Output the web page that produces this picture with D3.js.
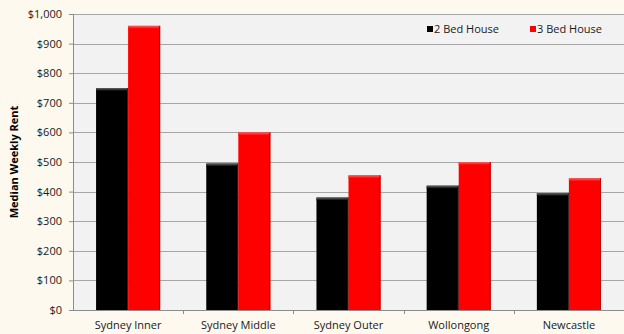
<!DOCTYPE html>
<html>
<head>
<meta charset="utf-8">
<script src="https://cdn.jsdelivr.net/npm/d3@7"></script>
<style>
  body { margin: 0; background: #fdf9ee; }
  svg { display: block; font-family: "Open Sans", "Noto Sans", sans-serif; }
</style>
</head>
<body>
<svg width="624" height="334"></svg>
<script>
var regions = ["Sydney Inner", "Sydney Middle", "Sydney Outer", "Wollongong", "Newcastle"];
var series = ["2 Bed House", "3 Bed House"];
var twoBed = [750, 495, 380, 420, 395];
var threeBed = [960, 600, 455, 500, 445];
var yTicks = [0, 100, 200, 300, 400, 500, 600, 700, 800, 900, 1000];

var colors = { "2 Bed House": "#000000", "3 Bed House": "#ff0000" };
var edges = { "2 Bed House": "#2a2a2a", "3 Bed House": "#c00000" };

var margin = { top: 14, right: 0, bottom: 24, left: 73 };
var width = 624 - margin.left - margin.right,
    height = 334 - margin.top - margin.bottom;

var svg = d3.select("svg");
var g = svg.append("g").attr("transform", "translate(" + margin.left + "," + margin.top + ")");

var x0 = d3.scaleBand().domain(regions).range([0, width]);
var x1 = d3.scaleBand().domain(series).range([0, x0.bandwidth()]).paddingOuter(0.72);
var y = d3.scaleLinear().domain([0, 1000]).range([height, 0]);

// plot background
g.append("rect")
  .attr("width", width).attr("height", height)
  .attr("fill", "#f2f2f2");

// gridlines
g.append("g").selectAll("line")
  .data(yTicks.slice(1))
  .enter().append("line")
  .attr("x1", 0).attr("x2", width)
  .attr("y1", function(d) { return Math.round(y(d)) + 0.5; })
  .attr("y2", function(d) { return Math.round(y(d)) + 0.5; })
  .attr("stroke", "#a6a6a6");

// gradient for bar tops
var defs = svg.append("defs");
series.forEach(function(s, i) {
  var grad = defs.append("linearGradient")
    .attr("id", "top" + i).attr("x1", 0).attr("y1", 0).attr("x2", 0).attr("y2", 1);
  grad.append("stop").attr("offset", "0%").attr("stop-color", i ? "#ff6060" : "#666");
  grad.append("stop").attr("offset", "100%").attr("stop-color", colors[s]);
});

var rows = regions.map(function(r, i) {
  return { region: r, values: [
    { key: series[0], value: twoBed[i] },
    { key: series[1], value: threeBed[i] }
  ] };
});

var groups = g.append("g").selectAll("g")
  .data(rows)
  .enter().append("g")
  .attr("transform", function(d) { return "translate(" + x0(d.region) + ",0)"; });

var bars = groups.selectAll("g")
  .data(function(d) { return d.values; })
  .enter().append("g");

bars.append("rect")
  .attr("x", function(d) { return x1(d.key); })
  .attr("y", function(d) { return y(d.value); })
  .attr("width", x1.bandwidth())
  .attr("height", function(d) { return height - y(d.value); })
  .attr("fill", function(d) { return colors[d.key]; });

// bevel: top highlight and right edge
bars.append("rect")
  .attr("x", function(d) { return x1(d.key); })
  .attr("y", function(d) { return y(d.value); })
  .attr("width", x1.bandwidth())
  .attr("height", 3)
  .attr("fill", function(d) { return "url(#top" + series.indexOf(d.key) + ")"; });

bars.append("rect")
  .attr("x", function(d) { return x1(d.key) + x1.bandwidth() - 1; })
  .attr("y", function(d) { return y(d.value); })
  .attr("width", 1)
  .attr("height", function(d) { return height - y(d.value); })
  .attr("fill", function(d) { return edges[d.key]; });

// y axis
var yAxis = g.append("g")
  .call(d3.axisLeft(y).tickValues(yTicks).tickSize(4).tickPadding(7)
    .tickFormat(function(d) { return "$" + d3.format(",")(d); }));
yAxis.select(".domain").attr("stroke", "#8c8c8c").attr("d", "M0.5," + height + "V0");
yAxis.selectAll(".tick line").attr("stroke", "#8c8c8c");
yAxis.selectAll("text").attr("font-size", 11).attr("fill", "#1a1a1a")
  .attr("font-family", "Open Sans, Noto Sans, sans-serif");

// x axis
var xAxis = g.append("g")
  .attr("transform", "translate(0," + height + ")")
  .call(d3.axisBottom(x0).tickSize(0).tickPadding(11));
xAxis.select(".domain").attr("stroke", "#8c8c8c").attr("d", "M0," + 0.5 + "H" + width);
xAxis.selectAll("text").attr("font-size", 11).attr("fill", "#1a1a1a")
  .attr("font-family", "Open Sans, Noto Sans, sans-serif");
xAxis.append("g").selectAll("line")
  .data(regions.slice(1))
  .enter().append("line")
  .attr("x1", function(d) { return Math.round(x0(d)) + 0.5; })
  .attr("x2", function(d) { return Math.round(x0(d)) + 0.5; })
  .attr("y1", 0).attr("y2", 4)
  .attr("stroke", "#8c8c8c");

// y title
svg.append("text")
  .attr("transform", "translate(18," + (margin.top + height / 2) + ") rotate(-90)")
  .attr("text-anchor", "middle")
  .attr("font-size", 11)
  .attr("font-weight", "bold")
  .text("Median Weekly Rent");

// legend
var legendX = [427, 530];
var legend = g.append("g").selectAll("g")
  .data(series)
  .enter().append("g")
  .attr("transform", function(d, i) { return "translate(" + (legendX[i] - margin.left) + ",15)"; });
legend.append("rect")
  .attr("x", 0).attr("y", -3)
  .attr("width", 6).attr("height", 6)
  .attr("fill", function(d) { return colors[d]; });
legend.append("text")
  .attr("x", 7).attr("y", 0)
  .attr("dy", "0.35em")
  .attr("font-size", 11)
  .attr("fill", "#1a1a1a")
  .text(function(d) { return d; });
</script>
</body>
</html>
